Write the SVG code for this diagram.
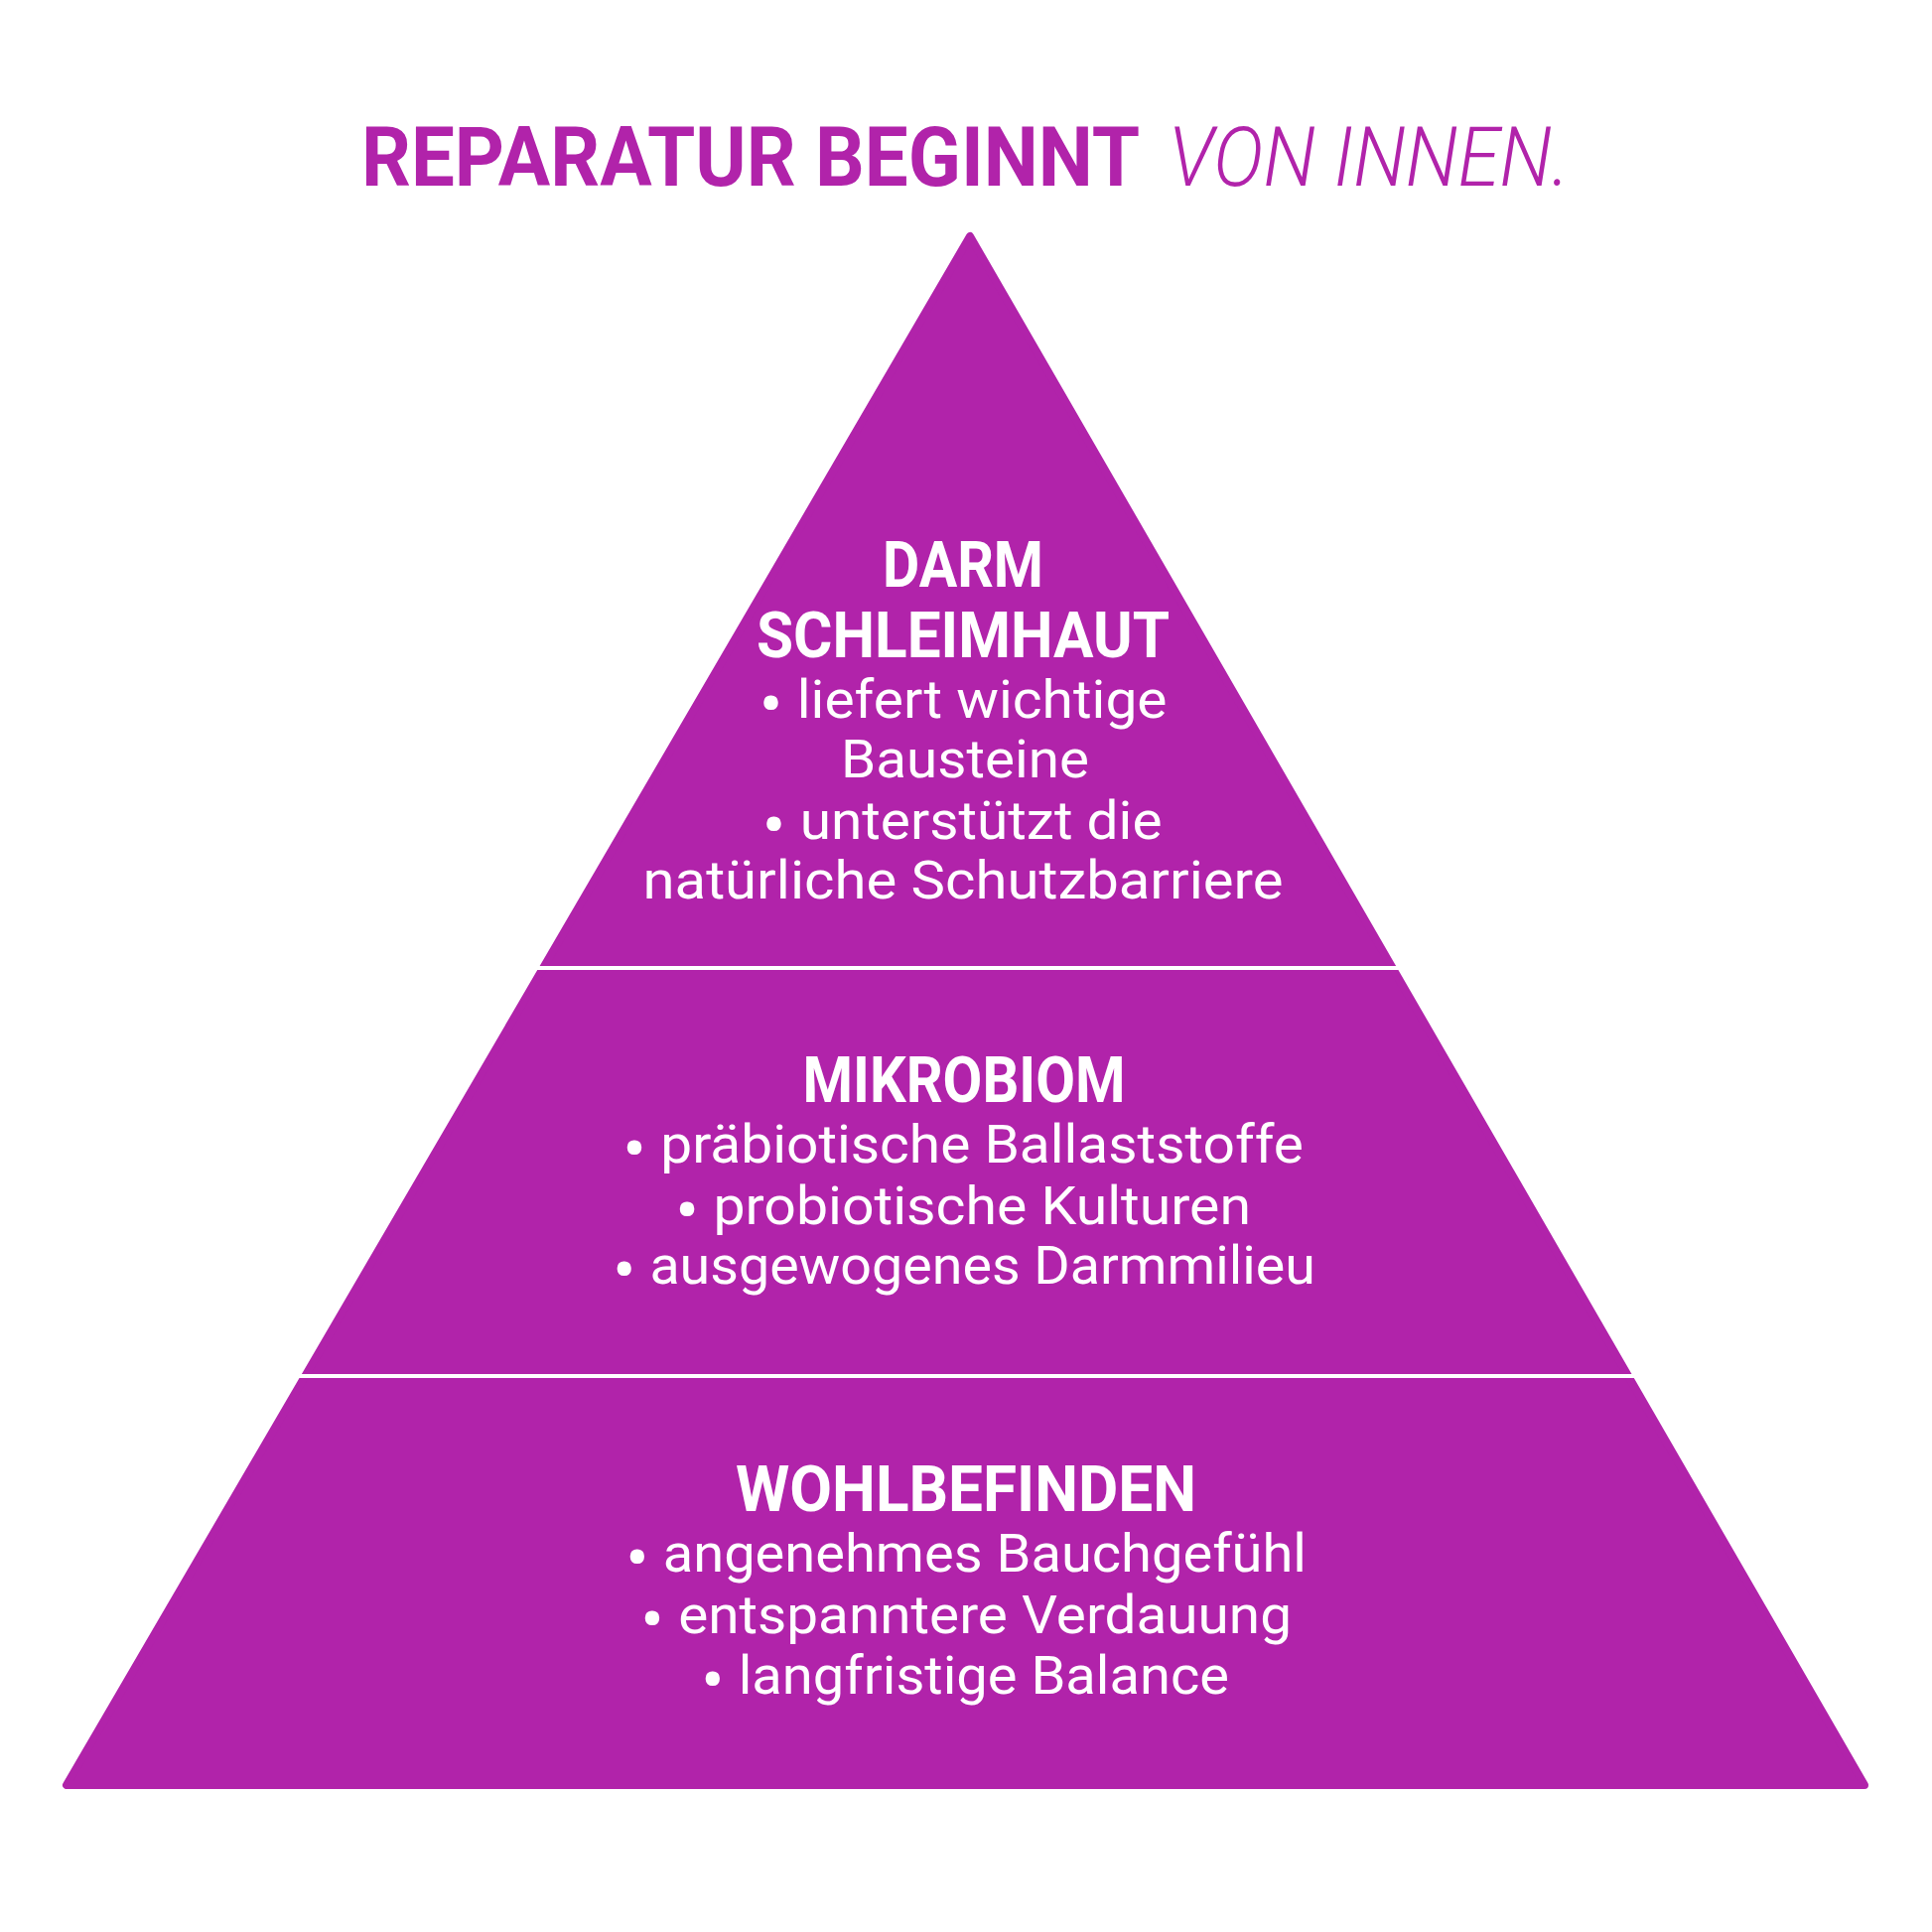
<svg xmlns="http://www.w3.org/2000/svg" width="1946" height="1946" viewBox="0 0 1946 1946">
  <style>
    .pur { fill: #B123AA; }
    .title { font-family: Roboto, "Liberation Sans", sans-serif; font-size: 84px; fill: #B123AA; }
    .tb { font-weight: 700; }
    .tl { font-weight: 300; font-style: italic; }
    .h { font-family: Roboto, "Liberation Sans", sans-serif; font-weight: 700; font-size: 64px; fill: #ffffff; text-anchor: middle; }
    .t { font-family: Roboto, "Liberation Sans", sans-serif; font-weight: 400; font-size: 54px; fill: #ffffff; text-anchor: middle; }
    .b { font-size: 68px; }
    .div { stroke: #ffffff; stroke-width: 4; }
  </style>
  <rect width="1946" height="1946" fill="#ffffff"/>
  <g id="title">
    <text class="title tb" x="364" y="187" textLength="784" lengthAdjust="spacingAndGlyphs">REPARATUR BEGINNT</text>
    <text class="title tl" x="1177" y="187" textLength="404" lengthAdjust="spacingAndGlyphs">VON INNEN.</text>
  </g>
  <g id="pyramid">
    <polygon class="pur" points="977,238 67,1798 1878,1798" stroke="#B123AA" stroke-width="8" stroke-linejoin="round"/>
  </g>
  <g id="connectors">
    <line class="div" x1="520" y1="975" x2="1430" y2="975"/>
    <line class="div" x1="290" y1="1386" x2="1660" y2="1386"/>
  </g>
  <g id="tier-darmschleimhaut">
    <text class="h" x="970" y="591" textLength="162" lengthAdjust="spacingAndGlyphs">DARM</text>
    <text class="h" x="970" y="662" textLength="416" lengthAdjust="spacingAndGlyphs">SCHLEIMHAUT</text>
    <text class="t" x="970" y="723" textLength="411" lengthAdjust="spacingAndGlyphs"><tspan class="b" dy="10">•</tspan><tspan dy="-10"> liefert wichtige</tspan></text>
    <text class="t" x="972" y="783" textLength="250" lengthAdjust="spacingAndGlyphs">Bausteine</text>
    <text class="t" x="969" y="845" textLength="403" lengthAdjust="spacingAndGlyphs"><tspan class="b" dy="10">•</tspan><tspan dy="-10"> unterstützt die</tspan></text>
    <text class="t" x="970" y="905" textLength="645" lengthAdjust="spacingAndGlyphs">natürliche Schutzbarriere</text>
  </g>
  <g id="tier-mikrobiom">
    <text class="h" x="971" y="1110" textLength="325" lengthAdjust="spacingAndGlyphs">MIKROBIOM</text>
    <text class="t" x="970" y="1171" textLength="686" lengthAdjust="spacingAndGlyphs"><tspan class="b" dy="10">•</tspan><tspan dy="-10"> präbiotische Ballaststoffe</tspan></text>
    <text class="t" x="970" y="1233" textLength="580" lengthAdjust="spacingAndGlyphs"><tspan class="b" dy="10">•</tspan><tspan dy="-10"> probiotische Kulturen</tspan></text>
    <text class="t" x="971" y="1293" textLength="708" lengthAdjust="spacingAndGlyphs"><tspan class="b" dy="10">•</tspan><tspan dy="-10"> ausgewogenes Darmmilieu</tspan></text>
  </g>
  <g id="tier-wohlbefinden">
    <text class="h" x="973" y="1522" textLength="464" lengthAdjust="spacingAndGlyphs">WOHLBEFINDEN</text>
    <text class="t" x="973" y="1583" textLength="686" lengthAdjust="spacingAndGlyphs"><tspan class="b" dy="10">•</tspan><tspan dy="-10"> angenehmes Bauchgefühl</tspan></text>
    <text class="t" x="973" y="1645" textLength="656" lengthAdjust="spacingAndGlyphs"><tspan class="b" dy="10">•</tspan><tspan dy="-10"> entspanntere Verdauung</tspan></text>
    <text class="t" x="972" y="1706" textLength="532" lengthAdjust="spacingAndGlyphs"><tspan class="b" dy="10">•</tspan><tspan dy="-10"> langfristige Balance</tspan></text>
  </g>
</svg>
